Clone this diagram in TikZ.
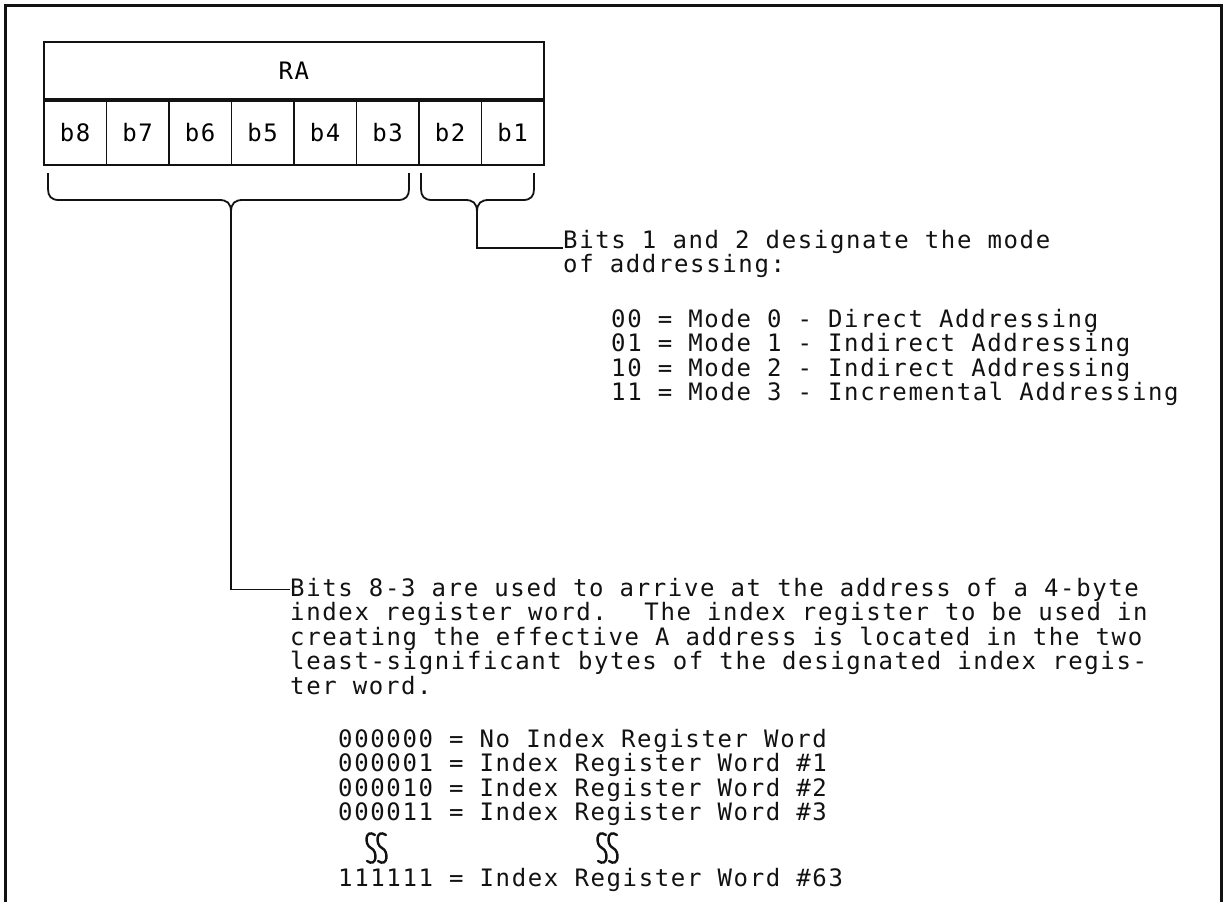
\documentclass[tikz,border=0pt]{standalone}
\usepackage{fontspec}
\usepackage{tikz}
\usetikzlibrary{positioning, calc}
\newfontfamily\typewriter[LetterSpace=6.8]{DejaVu Sans Mono}
\newcommand\typesize{\fontsize{24pt}{24.5pt}\selectfont}
\definecolor{ink}{RGB}{18,18,18}
\tikzset{
  regbox/.style={rectangle, draw=ink, line width=1.6pt, inner sep=0pt,
    minimum width=500pt, minimum height=57pt, font=\typewriter\typesize},
  bitcell/.style={rectangle, draw=ink, line width=1.6pt, inner sep=0pt,
    minimum width=62.5pt, minimum height=64pt, font=\typewriter\typesize},
  typeline/.style={inner sep=0pt, anchor=base west, text=ink,
    font=\typewriter\typesize},
  bracestroke/.style={draw=ink, line width=1.8pt},
  leader/.style={draw=ink, line width=1.6pt},
  outerframe/.style={draw=ink, line width=3pt},
  breakstroke/.style={draw=ink, line width=2.4pt, line cap=round}
}
% curly brace under a group of bits: left x, tip x, right x
\newcommand\bitbrace[3]{%
  \draw[bracestroke] (#1,173) -- (#1,189) .. controls (#1,196) and (#1+3,200) .. (#1+11,200)
    -- (#2-12,200) .. controls (#2-4,200) and (#2,203) .. (#2,212)
    .. controls (#2,203) and (#2+4,200) .. (#2+12,200)
    -- (#3-11,200) .. controls (#3-3,200) and (#3,196) .. (#3,189) -- (#3,173);}
% break mark (two thin S strokes)
\newcommand\breakmark[2]{%
  \foreach \dx in {-5,6}{
    \draw[breakstroke] (#1+\dx+4,#2-13) .. controls (#1+\dx-6,#2-20) and (#1+\dx-7,#2-3) .. (#1+\dx,#2)
      .. controls (#1+\dx+7,#2+3) and (#1+\dx+6,#2+20) .. (#1+\dx-4,#2+13);}}

\begin{document}
\begin{tikzpicture}[x=1pt, y=-1pt]
  \useasboundingbox (0,0) rectangle (1225,902);
  \draw[outerframe] (5,902) -- (5,5) -- (1221,5) -- (1221,902);

  % register
  \node[regbox, anchor=south west] (ra) at (43,100) {RA};
  \foreach \lbl [count=\i from 0] in {b8,b7,b6,b5,b4,b3,b2,b1}
    \node[bitcell, anchor=north west] (\lbl) at ({43+62.5*\i},100) {\lbl};

  % braces
  \bitbrace{48}{231}{409}
  \bitbrace{421}{477}{534}
  \coordinate (hitip) at (231,212);
  \coordinate (lotip) at (477,212);

  % mode of addressing
  \foreach \txt [count=\k from 0] in {Bits 1 and 2 designate the mode, of addressing:}
    \node[typeline] (mode\k) at (563,{248+24.5*\k}) {\txt};
  \foreach \txt [count=\k from 0] in {00 = Mode 0 - Direct Addressing,
      01 = Mode 1 - Indirect Addressing, 10 = Mode 2 - Indirect Addressing,
      11 = Mode 3 - Incremental Addressing}
    \node[typeline] (modeval\k) at (611,{327+24.5*\k}) {\txt};

  % index register word
  \foreach \txt [count=\k from 0] in {Bits 8-3 are used to arrive at the address of a 4-byte,
      index register word.~ The index register to be used in,
      creating the effective A address is located in the two,
      least-significant bytes of the designated index regis-,
      ter word.}
    \node[typeline] (idx\k) at (290,{596+24.5*\k}) {\txt};
  \foreach \txt [count=\k from 0] in {000000 = No Index Register Word,
      000001 = Index Register Word \#1, 000010 = Index Register Word \#2,
      000011 = Index Register Word \#3}
    \node[typeline] (idxval\k) at (338,{747+24.5*\k}) {\txt};
  \breakmark{376}{848}
  \breakmark{607}{848}
  \node[typeline] (idxlast) at (338,886) {111111 = Index Register Word \#63};

  % leaders
  \draw[leader] (lotip) |- (mode0.base west);
  \draw[leader] (hitip) |- (idx0.west);
\end{tikzpicture}
\end{document}
